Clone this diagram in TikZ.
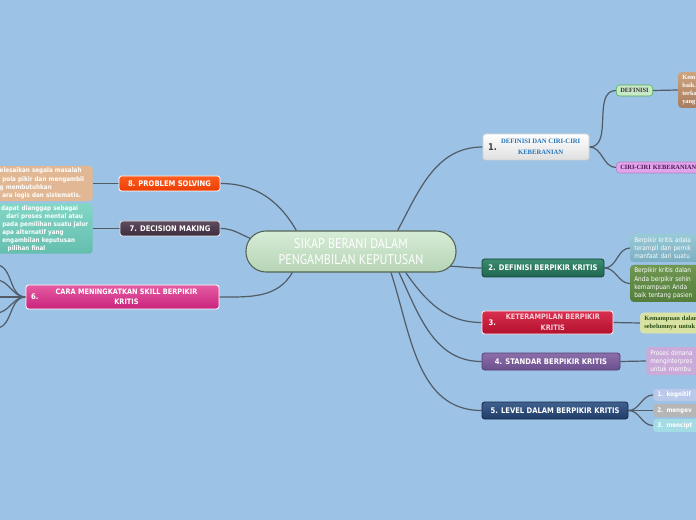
\documentclass[tikz,border=0pt]{standalone}
\usepackage{fontspec}
\newfontfamily\mapsans[FakeStretch=0.88]{DejaVu Sans}
\newfontfamily\mapcond[FakeStretch=0.86]{PT Sans}
\newfontfamily\mapserif{Liberation Serif}
\usepackage{tikz}
\usetikzlibrary{backgrounds}
\definecolor{mapBg}{RGB}{156, 194, 230}
\definecolor{linkGray}{RGB}{82, 92, 102}
\definecolor{rootTop}{RGB}{214, 236, 214}
\definecolor{rootBot}{RGB}{182, 212, 182}
\definecolor{rootEdge}{RGB}{84, 100, 84}
\definecolor{defBlue}{RGB}{34, 116, 184}
\definecolor{tealTop}{RGB}{58, 140, 112}
\definecolor{tealBot}{RGB}{32, 102, 80}
\definecolor{redTop}{RGB}{216, 48, 78}
\definecolor{redBot}{RGB}{178, 16, 46}
\definecolor{ketText}{RGB}{246, 206, 216}
\definecolor{purTop}{RGB}{140, 110, 170}
\definecolor{purBot}{RGB}{108, 80, 142}
\definecolor{navyTop}{RGB}{64, 96, 142}
\definecolor{navyBot}{RGB}{32, 60, 104}
\definecolor{orgTop}{RGB}{255, 92, 32}
\definecolor{orgBot}{RGB}{236, 60, 0}
\definecolor{plumTop}{RGB}{96, 76, 96}
\definecolor{plumBot}{RGB}{60, 44, 60}
\definecolor{pinkTop}{RGB}{230, 92, 162}
\definecolor{pinkBot}{RGB}{200, 34, 124}
\definecolor{brownTop}{RGB}{204, 164, 128}
\definecolor{brownBot}{RGB}{168, 124, 94}
\definecolor{defGreen}{RGB}{202, 232, 202}
\definecolor{ciriFill}{RGB}{226, 162, 236}
\definecolor{ciriText}{RGB}{74, 26, 78}
\definecolor{aquaTop}{RGB}{152, 202, 214}
\definecolor{aquaBot}{RGB}{124, 174, 194}
\definecolor{oliveTop}{RGB}{112, 152, 82}
\definecolor{oliveBot}{RGB}{84, 124, 60}
\definecolor{limeFill}{RGB}{216, 226, 162}
\definecolor{limeText}{RGB}{40, 74, 20}
\definecolor{lilacFill}{RGB}{202, 170, 216}
\definecolor{periFill}{RGB}{186, 200, 234}
\definecolor{greyFill}{RGB}{182, 182, 182}
\definecolor{cyanFill}{RGB}{164, 220, 230}
\definecolor{tanFill}{RGB}{226, 184, 148}
\definecolor{mintTop}{RGB}{130, 214, 198}
\definecolor{mintBot}{RGB}{100, 190, 174}
\newcommand{\branchfont}{\mapsans\bfseries\fontsize{5.8}{7.2}\selectfont}
\newcommand{\leaffont}{\mapsans\fontsize{4.9}{6.2}\selectfont}
\newcommand{\leafbold}{\mapsans\bfseries\fontsize{4.8}{6.2}\selectfont}
\newcommand{\seriffont}{\mapserif\bfseries\fontsize{4.8}{6}\selectfont}

\begin{document}
\begin{tikzpicture}[x=0.75pt, y=-0.75pt,
    link/.style={draw=linkGray, line width=0.9pt},
    branch/.style={rounded corners=2pt, line width=0.6pt, text=white,
                   font=\branchfont, align=center, inner sep=1pt},
    numtxt/.style={anchor=west, text=white, font=\branchfont, inner sep=1pt},
    leaf/.style={rounded corners=2.5pt, text=white, font=\leaffont,
                 align=left, inner xsep=3pt, inner ysep=1.5pt}]
  \useasboundingbox (0,0) rectangle (696,520);
  \begin{scope}[on background layer]
    \fill[mapBg] (0,0) rectangle (696,520);
  \end{scope}

  % central topic
  \node[draw=rootEdge, line width=0.8pt, top color=rootTop, bottom color=rootBot,
        rounded corners=15pt, minimum width=157.5pt, minimum height=30.75pt,
        text=white, font=\mapcond\fontsize{10.5}{12}\selectfont, align=center]
    (root) at (351,251.5) {SIKAP BERANI DALAM\\PENGAMBILAN KEPUTUSAN};

  % right side
  \node[branch, draw=gray!35, top color=white, bottom color=gray!25,
        minimum width=79.5pt, minimum height=19.5pt, text=defBlue,
        font=\mapserif\bfseries\fontsize{5}{8}\selectfont]
    (b1) at (536,147) {\hspace*{7pt}DEFINISI DAN CIRI-CIRI\\\hspace*{7pt}KEBERANIAN};
  \node[numtxt, text=darkgray, font=\mapsans\bfseries\fontsize{7}{8}\selectfont]
    (b1num) at ([xshift=3pt]b1.west) {1.};
  \node[leaf, fill=defGreen, draw=green!40!gray, text=black!80, font=\seriffont,
        minimum height=8.25pt, inner ysep=0.5pt, anchor=west]
    (d1) at (616,90.5) {DEFINISI};
  \node[leaf, top color=brownTop, bottom color=brownBot, font=\seriffont,
        text width=40pt, minimum height=27pt, anchor=west]
    (l1) at (678,90) {Kem\\baik.\\terka\\yang};
  \node[leaf, fill=ciriFill, draw=ciriFill!80!black, text=ciriText, font=\seriffont,
        minimum height=8.25pt, inner ysep=0.5pt, text width=70pt, anchor=west]
    (c1) at (616,167.5) {CIRI-CIRI KEBERANIAN};

  \node[branch, draw=tealBot!70!black, top color=tealTop, bottom color=tealBot,
        minimum width=91.5pt, minimum height=13.5pt]
    (b2) at (543,268) {2. DEFINISI BERPIKIR KRITIS};
  \node[leaf, top color=aquaTop, bottom color=aquaBot, text width=62pt,
        minimum height=21pt, anchor=west]
    (l2a) at (630,248) {Berpikir kritis adala\\terampil dan pemik\\manfaat dari suatu};
  \node[leaf, top color=oliveTop, bottom color=oliveBot, text width=62pt,
        minimum height=27.75pt, anchor=west]
    (l2b) at (630,283.5) {Berpikir kritis dalan\\Anda berpikir sehin\\kemampuan Anda\\baik tentang pasien};

  \node[branch, draw=white!85!pink, top color=redTop, bottom color=redBot,
        text=ketText, minimum width=98.25pt, minimum height=17.25pt,
        font=\mapsans\bfseries\fontsize{5.6}{8}\selectfont]
    (b3) at (547.5,322.5) {\hspace*{8pt}KETERAMPILAN BERPIKIR\\\hspace*{8pt}KRITIS};
  \node[numtxt] (b3num) at ([xshift=4pt]b3.west) {3.};
  \node[leaf, fill=limeFill, draw=limeFill!90!white, text=limeText,
        font=\mapserif\bfseries\fontsize{4.8}{6}\selectfont, text width=50pt,
        minimum height=15pt, anchor=west]
    (l3) at (640,323) {Kemampuan dalam\\sebelumnya untuk};

  \node[branch, draw=purBot!80!black, top color=purTop, bottom color=purBot,
        minimum width=103.5pt, minimum height=12.75pt]
    (b4) at (551,361.5) {4. STANDAR BERPIKIR KRITIS};
  \node[leaf, fill=lilacFill, text width=50pt, minimum height=21pt, anchor=west]
    (l4) at (646,361) {Proses dimana\\menginterpres\\untuk membu};

  \node[branch, draw=navyBot!70!black, top color=navyTop, bottom color=navyBot,
        minimum width=109.5pt, minimum height=12.75pt]
    (b5) at (555,410.5) {5. LEVEL DALAM BERPIKIR KRITIS};
  \node[leaf, fill=periFill, font=\leafbold, text width=40pt, minimum height=9pt,
        inner ysep=0.5pt, anchor=west] (l5a) at (653,395) {1. kognitif};
  \node[leaf, fill=greyFill, font=\leafbold, text width=40pt, minimum height=9.75pt,
        inner ysep=0.5pt, anchor=west] (l5b) at (653,410.5) {2. mengev};
  \node[leaf, fill=cyanFill, font=\leafbold, text width=40pt, minimum height=9.75pt,
        inner ysep=0.5pt, anchor=west] (l5c) at (653,425.5) {3. mencipt};

  % left side
  \node[branch, draw=white, top color=orgTop, bottom color=orgBot,
        minimum width=75.75pt, minimum height=11.25pt]
    (b8) at (169.5,183.5) {8. PROBLEM SOLVING};
  \node[leaf, fill=tanFill, font=\leafbold, text width=66.75pt,
        minimum height=26.25pt, anchor=east]
    (l8) at (93,183.5) {elesaikan segala masalah\\\hspace*{2pt}pola pikir dan mengambil\\g membutuhkan\\\hspace*{2pt}ara logis dan sistematis.};

  \node[branch, draw=white!80!gray, top color=plumTop, bottom color=plumBot,
        minimum width=75pt, minimum height=11.25pt]
    (b7) at (170,228.5) {7. DECISION MAKING};
  \node[leaf, top color=mintTop, bottom color=mintBot,
        font=\mapsans\bfseries\fontsize{4.8}{6}\selectfont, text width=66.75pt,
        minimum height=36.75pt, anchor=east]
    (l7) at (93,228.5) {\hspace*{1pt}dapat dianggap sebagai\\\hspace*{5pt}dari proses mental atau\\\hspace*{2pt}pada pemilihan suatu jalur\\\hspace*{2pt}apa alternatif yang\\\hspace*{2pt}engambilan keputusan\\\hspace*{6pt}pilihan final};

  \node[branch, draw=white, top color=pinkTop, bottom color=pinkBot,
        minimum width=144.75pt, minimum height=18pt,
        font=\mapsans\bfseries\fontsize{5.6}{7.5}\selectfont]
    (b6) at (122.5,297) {\hspace*{6pt}CARA MENINGKATKAN SKILL BERPIKIR\\\hspace*{6pt}KRITIS};
  \node[numtxt] (b6num) at ([xshift=3pt]b6.west) {6.};
  \coordinate (k1) at (-4,265);
  \coordinate (k2) at (-4,280);
  \coordinate (k3) at (-4,297);
  \coordinate (k4) at (-4,313);
  \coordinate (k5) at (-4,328);

  % connectors
  \begin{scope}[on background layer]
    \draw[link] ([xshift=35pt]root.north) to[out=62,in=180] (b1.west);
    \draw[link] ([xshift=-8pt,yshift=-11pt]root.east) to[out=0,in=180] (b2.west);
    \draw[link] ([xshift=41pt]root.south) to[out=-55,in=180] (b3.west);
    \draw[link] ([xshift=36pt]root.south) to[out=-65,in=180] (b4.west);
    \draw[link] ([xshift=30pt]root.south) to[out=-72,in=180] (b5.west);
    \draw[link] ([xshift=-41pt]root.north) to[out=120,in=0] (b8.east);
    \draw[link] ([xshift=9pt,yshift=8pt]root.west) to[out=165,in=0] (b7.east);
    \draw[link] ([xshift=-44pt]root.south) to[out=-120,in=0] (b6.east);
    \draw[link] (b1.east) to[out=0,in=180] (d1.west);
    \draw[link] (b1.east) to[out=0,in=180] (c1.west);
    \draw[link] (d1.east) -- (l1.west);
    \draw[link] (b2.east) to[out=0,in=180] (l2a.west);
    \draw[link] (b2.east) to[out=0,in=180] (l2b.west);
    \draw[link] (b3.east) -- (l3.west);
    \draw[link] (b4.east) -- (l4.west);
    \draw[link] (b5.east) to[out=0,in=180] (l5a.west);
    \draw[link] (b5.east) to[out=0,in=180] (l5b.west);
    \draw[link] (b5.east) to[out=0,in=180] (l5c.west);
    \draw[link] (b8.west) -- (l8.east);
    \draw[link] (b7.west) -- (l7.east);
    \foreach \k in {k1,k2,k3,k4,k5}
      \draw[link] (b6.west) to[out=180,in=0] (\k);
  \end{scope}
\end{tikzpicture}
\end{document}
